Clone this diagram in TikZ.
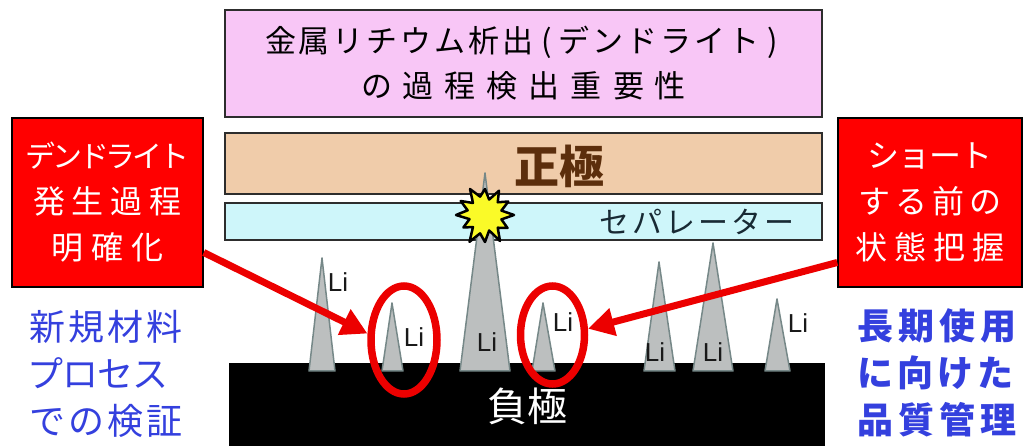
\documentclass[tikz,border=0pt]{standalone}
\usepackage{fontspec}
\setmainfont{Noto Sans CJK JP}
\newfontfamily\lifont{Liberation Sans}
\usetikzlibrary{arrows.meta,shapes.geometric}

\definecolor{titlefill}{RGB}{248,198,246}
\definecolor{cathode}{RGB}{240,204,170}
\definecolor{sepfill}{RGB}{206,246,250}
\definecolor{cathodetext}{RGB}{92,46,12}
\definecolor{septext}{RGB}{24,42,52}
\definecolor{layeredge}{RGB}{45,45,45}
\definecolor{dendrite}{RGB}{188,191,191}
\definecolor{dendriteedge}{RGB}{118,136,136}
\definecolor{markred}{RGB}{236,0,0}
\definecolor{notered}{RGB}{255,0,0}
\definecolor{noteblue}{RGB}{52,64,222}
\definecolor{sparkfill}{RGB}{250,250,40}

% set every character of #2 in a box #1 wide
\newcommand\charrow[2]{\def\charpitch{#1}\charrowstep#2\relax}
\newcommand\charrowstep[1]{\ifx#1\relax\else\makebox[\charpitch]{#1}\expandafter\charrowstep\fi}

% a lithium dendrite: apex (#1,#2), base from #3 to #4
\newcommand\dendrite[4]{\filldraw[spike] (#1,#2) -- (#3,371) -- (#4,371) -- cycle;}

\begin{document}
\begin{tikzpicture}[x=1pt,y=-1pt,
  layer/.style={draw=layeredge, line width=2pt, inner sep=0pt},
  spike/.style={fill=dendrite, draw=dendriteedge, line width=1.5pt, line join=round},
  spark/.style={fill=sparkfill, draw=black, line width=2.5pt, line join=round},
  lilabel/.style={font=\lifont\fontsize{26}{26}\selectfont, text=black!90, inner sep=0pt},
  ring/.style={ellipse, draw=markred, line width=7.5pt, inner sep=0pt},
  pointer/.style={draw=markred, line width=7pt, -{Triangle[length=26pt,width=27pt]}},
  notebox/.style={draw=black, line width=1.5pt, fill=notered, text=white, align=center,
    inner sep=0pt, minimum height=169pt, font=\fontsize{32}{46}\selectfont},
  bluenote/.style={text=noteblue, align=left, inner sep=0pt, anchor=west,
    font=\fontsize{36}{47}\selectfont}]
\useasboundingbox (0,0) rectangle (1029,446);

% stack of layers
\node[layer, fill=titlefill, minimum width=597pt, minimum height=107pt, align=center,
  font=\fontsize{31}{45}\selectfont] (title) at (523.5,63.5)
  {\charrow{34pt}{金属リチウム析出}\makebox[22pt]{(}\charrow{34pt}{デンドライト}\makebox[22pt]{)}\\
   \charrow{42pt}{の過程検出重要性}};
\node[layer, fill=cathode, minimum width=597pt, minimum height=61pt] (cathode) at (523.5,163.5) {};
\node[text=cathodetext, font=\bfseries\fontsize{45}{45}\selectfont, inner sep=0pt] (cathodelabel) at (559,166) {正極};
\node[layer, fill=sepfill, minimum width=597pt, minimum height=37pt] (separator) at (523.5,221.5) {};
\node[text=septext, font=\fontsize{30}{30}\selectfont, inner sep=0pt] (seplabel) at (697,222) {\charrow{33pt}{セパレーター}};
\node[fill=black, minimum width=596pt, minimum height=88pt, inner sep=0pt] (anode) at (526.5,407) {};
\node[text=white, font=\fontsize{40}{40}\selectfont, inner sep=0pt] (anodelabel) at (527,406) {負極};

% dendrites growing from the anode
\dendrite{322}{258}{309}{335}
\dendrite{392}{303}{382}{403}
\dendrite{485}{173}{460}{510}
\dendrite{543}{303}{532}{555}
\dendrite{659}{262}{644}{675}
\dendrite{713}{243}{693}{733}
\dendrite{777}{299}{765}{790}

% short circuit spark where the tall dendrite pierces the separator
\begin{scope}[shift={(485,215)}]
  \filldraw[spark] (0:29) \foreach \a/\r in {15/17,30/26,45/18,60/30,75/16,90/27,105/19,
    120/31,135/17,150/25,165/16,180/29,195/18,210/28,225/17,240/30,255/19,270/26,
    285/16,300/28,315/18,330/27,345/17} { -- (\a:\r) } -- cycle;
\end{scope}

\node[lilabel] (li1) at (338,282) {Li};
\node[lilabel] (li2) at (414,337) {Li};
\node[lilabel] (li3) at (487,342) {Li};
\node[lilabel] (li4) at (563,322) {Li};
\node[lilabel] (li5) at (655,352) {Li};
\node[lilabel] (li6) at (713,352) {Li};
\node[lilabel] (li7) at (798,323) {Li};

% highlighted dendrites
\node[ring, minimum width=66pt, minimum height=108pt] (e1) at (404,340) {};
\node[ring, minimum width=64pt, minimum height=98pt] (e2) at (552.5,335) {};

% side notes
\node[notebox, minimum width=191pt] (lbox) at (107.5,202.5)
  {\fontsize{30}{46}\selectfont\charrow{27pt}{デンドライト}\\\charrow{39pt}{発生過程}\\\charrow{40pt}{明確化}};
\node[notebox, minimum width=184pt] (rbox) at (930,202.5)
  {\charrow{31pt}{ショート}\\\charrow{37pt}{する前の}\\\charrow{39pt}{状態把握}};

\draw[pointer] ([yshift=-50pt]lbox.east) -- (e1.170);
\draw[pointer] ([yshift=-60pt]rbox.west) -- (e2.10);

\node[bluenote] (lnote) at (28,374)
  {\charrow{39pt}{新規材料}\\\charrow{35pt}{プロセス}\\\charrow{39pt}{での検証}};
\node[bluenote, font=\bfseries\fontsize{36}{47}\selectfont] (rnote) at (855,373)
  {\charrow{41pt}{長期使用}\\\charrow{40pt}{に向けた}\\\charrow{41pt}{品質管理}};
\end{tikzpicture}
\end{document}
